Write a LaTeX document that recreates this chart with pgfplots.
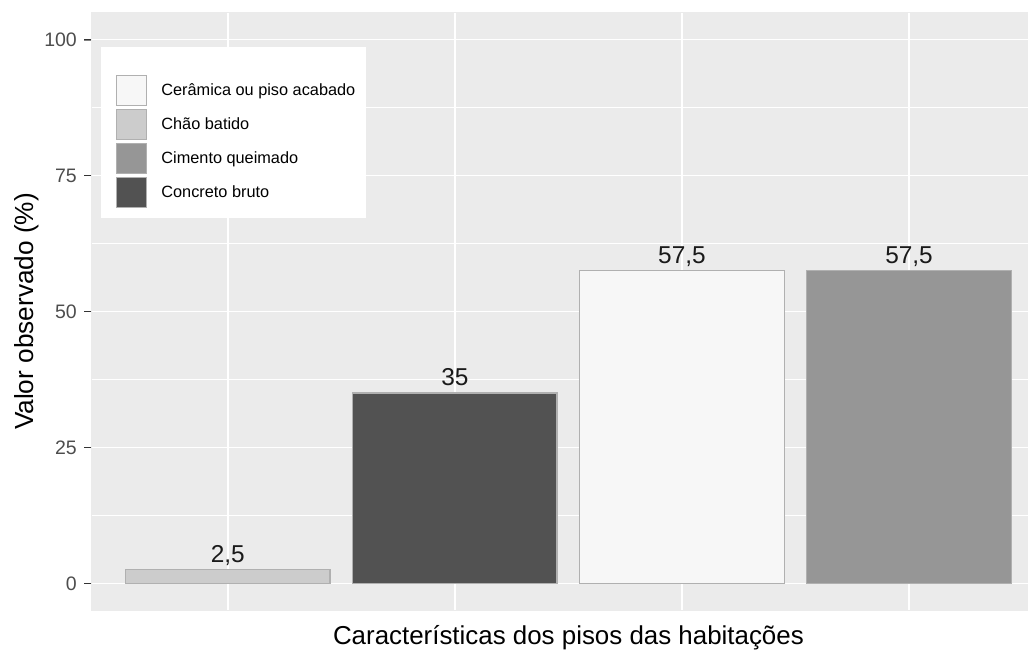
\documentclass[border=0pt]{standalone}
\usepackage{pgfplots}
\pgfplotsset{compat=1.18}
\usepackage{fontspec}
\setmainfont{Liberation Sans}
\definecolor{panel}{HTML}{EBEBEB}
\definecolor{outl}{HTML}{B0B0B0}
\definecolor{cCer}{HTML}{F7F7F7}
\definecolor{cCha}{HTML}{CCCCCC}
\definecolor{cCim}{HTML}{969696}
\definecolor{cCon}{HTML}{525252}
\definecolor{tickc}{HTML}{333333}
\definecolor{tlab}{HTML}{4D4D4D}
\definecolor{vlab}{HTML}{1A1A1A}
\begin{document}
\begin{tikzpicture}
\path[use as bounding box] (0pt,0pt) rectangle (1028pt,650pt);
\begin{axis}[
  at={(91.5pt,39.5pt)}, anchor=south west,
  scale only axis, width=953.8pt, height=598pt,
  xmin=0.4, xmax=4.6, ymin=-5, ymax=105,
  ybar,
  every axis plot/.append style={bar width=0.9, bar shift=0pt, draw=outl, line width=1.2pt,
    legend image code/.code={\draw[##1,line width=1.2pt] (0pt,-15pt) rectangle (30pt,15pt);}},
  axis background/.style={fill=panel},
  axis line style={draw=panel, line width=0.1pt},
  xtick={1,2,3,4}, xticklabels={},
  ytick={0,25,50,75,100}, minor ytick={12.5,37.5,62.5,87.5},
  xmajorgrids, ymajorgrids, yminorgrids,
  major grid style={line width=1.6pt, white},
  minor grid style={line width=0.8pt, white},
  tick align=outside, ytick pos=left, xtick pos=bottom,
  major x tick style={draw=none},
  minor tick length=0pt,
  major tick length=7pt,
  /pgf/number format/assume math mode=true,
  /pgf/number format/use comma,
  yticklabel style={font=\fontsize{19.5}{22}\selectfont, text=tlab, inner sep=0pt, xshift=-7.5pt},
  xlabel={Características dos pisos das habitações},
  xlabel style={at={(axis description cs:0.5,-0.0565)}, anchor=base, font=\fontsize{25.9}{30}\selectfont},
  ylabel={Valor observado (\%)},
  ylabel style={at={(axis description cs:-0.0613,0.5)}, anchor=base, font=\fontsize{26.2}{30}\selectfont},
  point meta=y,
  nodes near coords,
  every node near coord/.append style={font=\fontsize{24.4}{28}\selectfont, text=vlab, anchor=base, inner sep=0pt, yshift=7.5pt},
  legend style={at={(axis description cs:0.02569,0.8955)}, anchor=north west, draw=none, fill=none,
    inner sep=0pt, row sep=2.7pt, column sep=14pt, font=\fontsize{16.3}{19}\selectfont,
    nodes={inner sep=0pt}},
  legend cell align=left,
]
\fill[white] (rel axis cs:0.00996,0.6564) rectangle (rel axis cs:0.2878,0.9423);
\addplot[fill=cCer] coordinates {(3,57.5)};
\addlegendentry{Cerâmica ou piso acabado}
\addplot[fill=cCha] coordinates {(1,2.5)};
\addlegendentry{Chão batido}
\addplot[fill=cCim] coordinates {(4,57.5)};
\addlegendentry{Cimento queimado}
\addplot[fill=cCon] coordinates {(2,35)};
\addlegendentry{Concreto bruto}
\end{axis}
% overlay axis carrying only the y tick marks
\begin{axis}[
  at={(91.5pt,39.5pt)}, anchor=south west,
  scale only axis, width=953.8pt, height=598pt,
  xmin=0.4, xmax=4.6, ymin=-5, ymax=105,
  axis x line=none, axis y line=left,
  y axis line style={-, draw=panel, line width=0.1pt},
  ytick={0,25,50,75,100}, yticklabels={},
  tick align=outside, major tick length=7pt,
  ytick style={draw=tickc, line width=1.4pt},
]
\end{axis}
\end{tikzpicture}
\end{document}
